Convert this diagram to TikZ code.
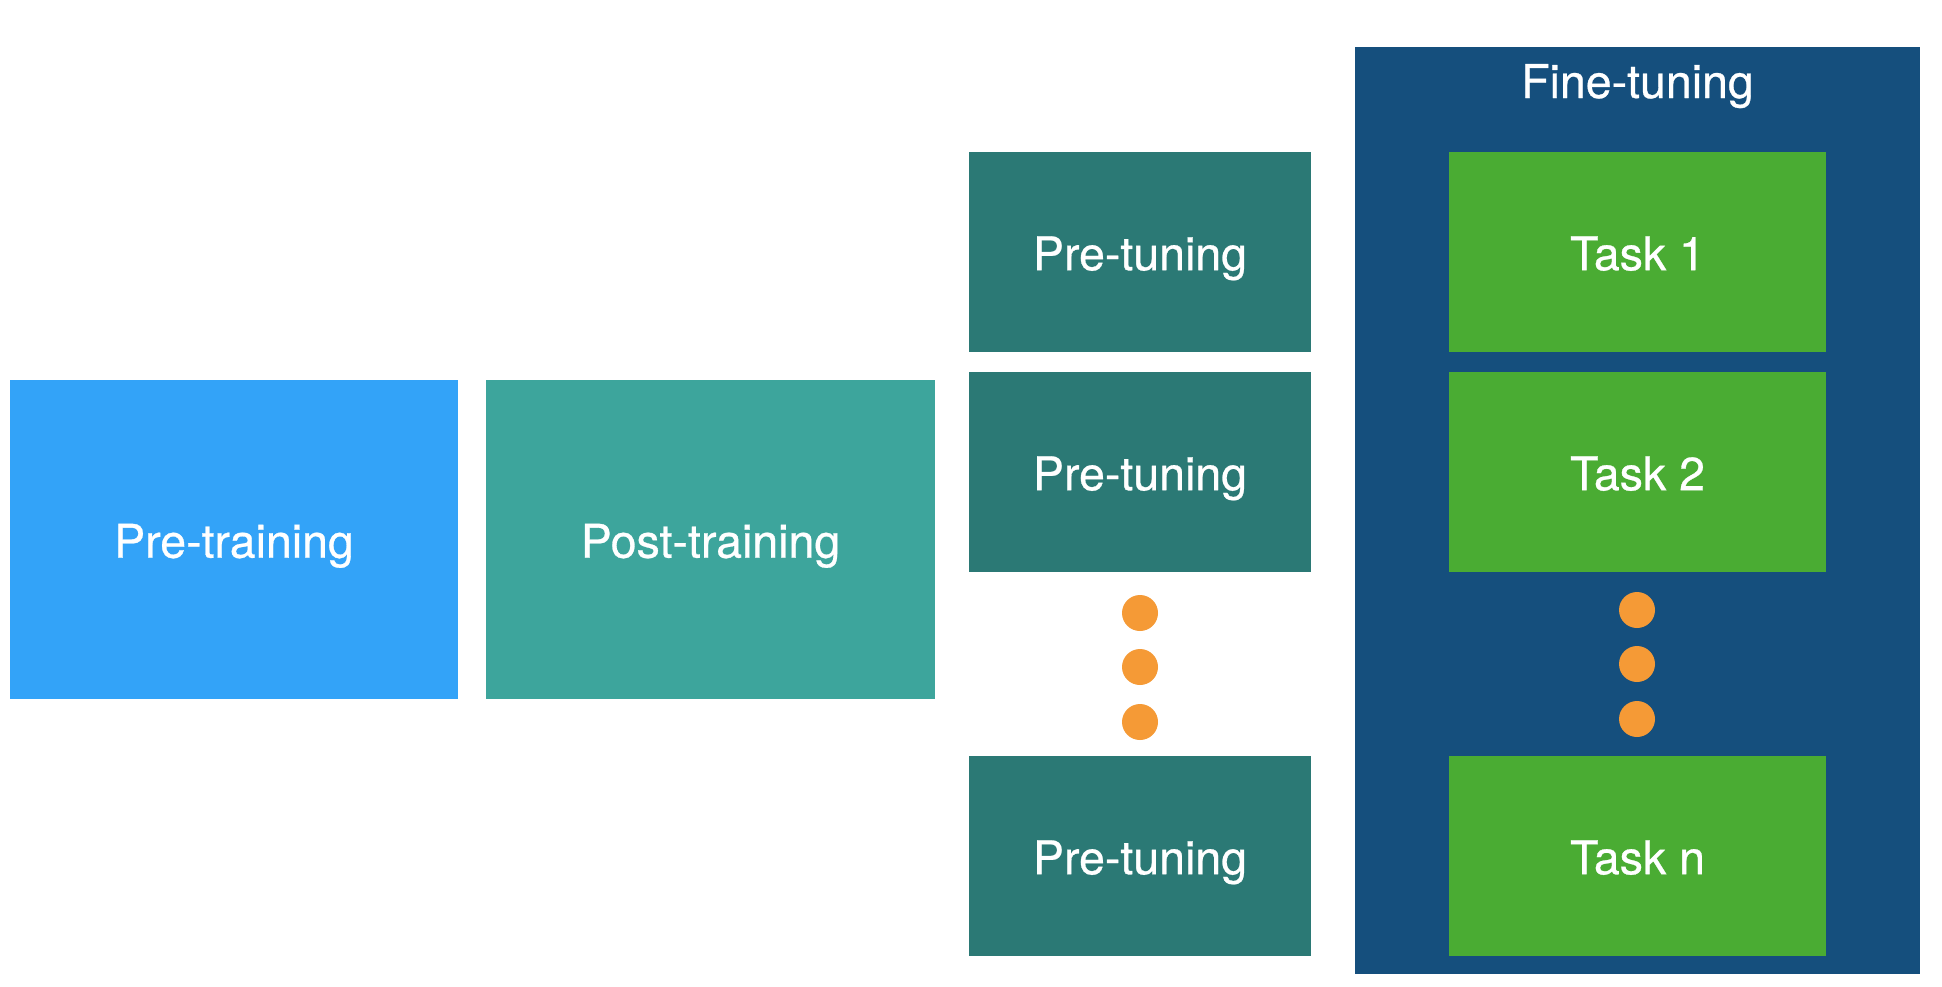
\documentclass[tikz,border=0pt]{standalone}
\usepackage{fontspec}
\setmainfont{TeX Gyre Heros}[FakeBold=0.6]
\definecolor{ptblue}{RGB}{51,163,248}
\definecolor{postteal}{RGB}{61,165,156}
\definecolor{tuneteal}{RGB}{43,121,117}
\definecolor{ftblue}{RGB}{21,79,125}
\definecolor{taskgreen}{RGB}{74,172,51}
\definecolor{dotorange}{RGB}{245,154,54}
\begin{document}
\begin{tikzpicture}[x=1pt,y=-1pt,
  box/.style={rectangle, inner sep=0pt, outer sep=0pt, text=white,
    font=\fontsize{46.5}{52}\selectfont, text height=36.4pt, text depth=0pt, anchor=north west},
  pretrainbox/.style={box, fill=ptblue, minimum width=448pt, minimum height=319pt},
  posttrainbox/.style={box, fill=postteal, minimum width=449pt, minimum height=319pt},
  pretunebox/.style={box, fill=tuneteal, minimum width=342pt, minimum height=200pt},
  taskbox/.style={box, fill=taskgreen, minimum width=377pt, minimum height=200pt},
  finebox/.style={box, fill=ftblue, minimum width=565pt, minimum height=927pt},
  titletext/.style={inner sep=0pt, text=white, font=\fontsize{46.5}{52}\selectfont, anchor=base},
  dotmark/.style={circle, fill=dotorange, minimum size=36pt, inner sep=0pt}]
\useasboundingbox (0,0) rectangle (1942,986);
\fill[white] (0,0) rectangle (1942,986);
% main stages
\node[pretrainbox] (pretrain) at (10,380) {Pre-training};
\node[posttrainbox] (posttrain) at (486,380) {Post-training};
% pre-tuning column
\node[pretunebox] (pt1) at (969,152) {Pre-tuning};
\node[pretunebox] (pt2) at (969,372) {Pre-tuning};
\node[pretunebox] (ptn) at (969,756) {Pre-tuning};
\node[dotmark] (ld1) at (1140,613) {};
\node[dotmark] (ld2) at (1140,667) {};
\node[dotmark] (ld3) at (1140,722) {};
% fine-tuning container
\node[finebox] (fine) at (1355,47) {};
\node[titletext] (finetitle) at (1637.5,98) {Fine-tuning};
\node[taskbox] (task1) at (1449,152) {Task 1};
\node[taskbox] (task2) at (1449,372) {Task 2};
\node[taskbox] (taskn) at (1449,756) {Task n};
\node[dotmark] (rd1) at (1637,610) {};
\node[dotmark] (rd2) at (1637,664) {};
\node[dotmark] (rd3) at (1637,719) {};
\end{tikzpicture}
\end{document}
